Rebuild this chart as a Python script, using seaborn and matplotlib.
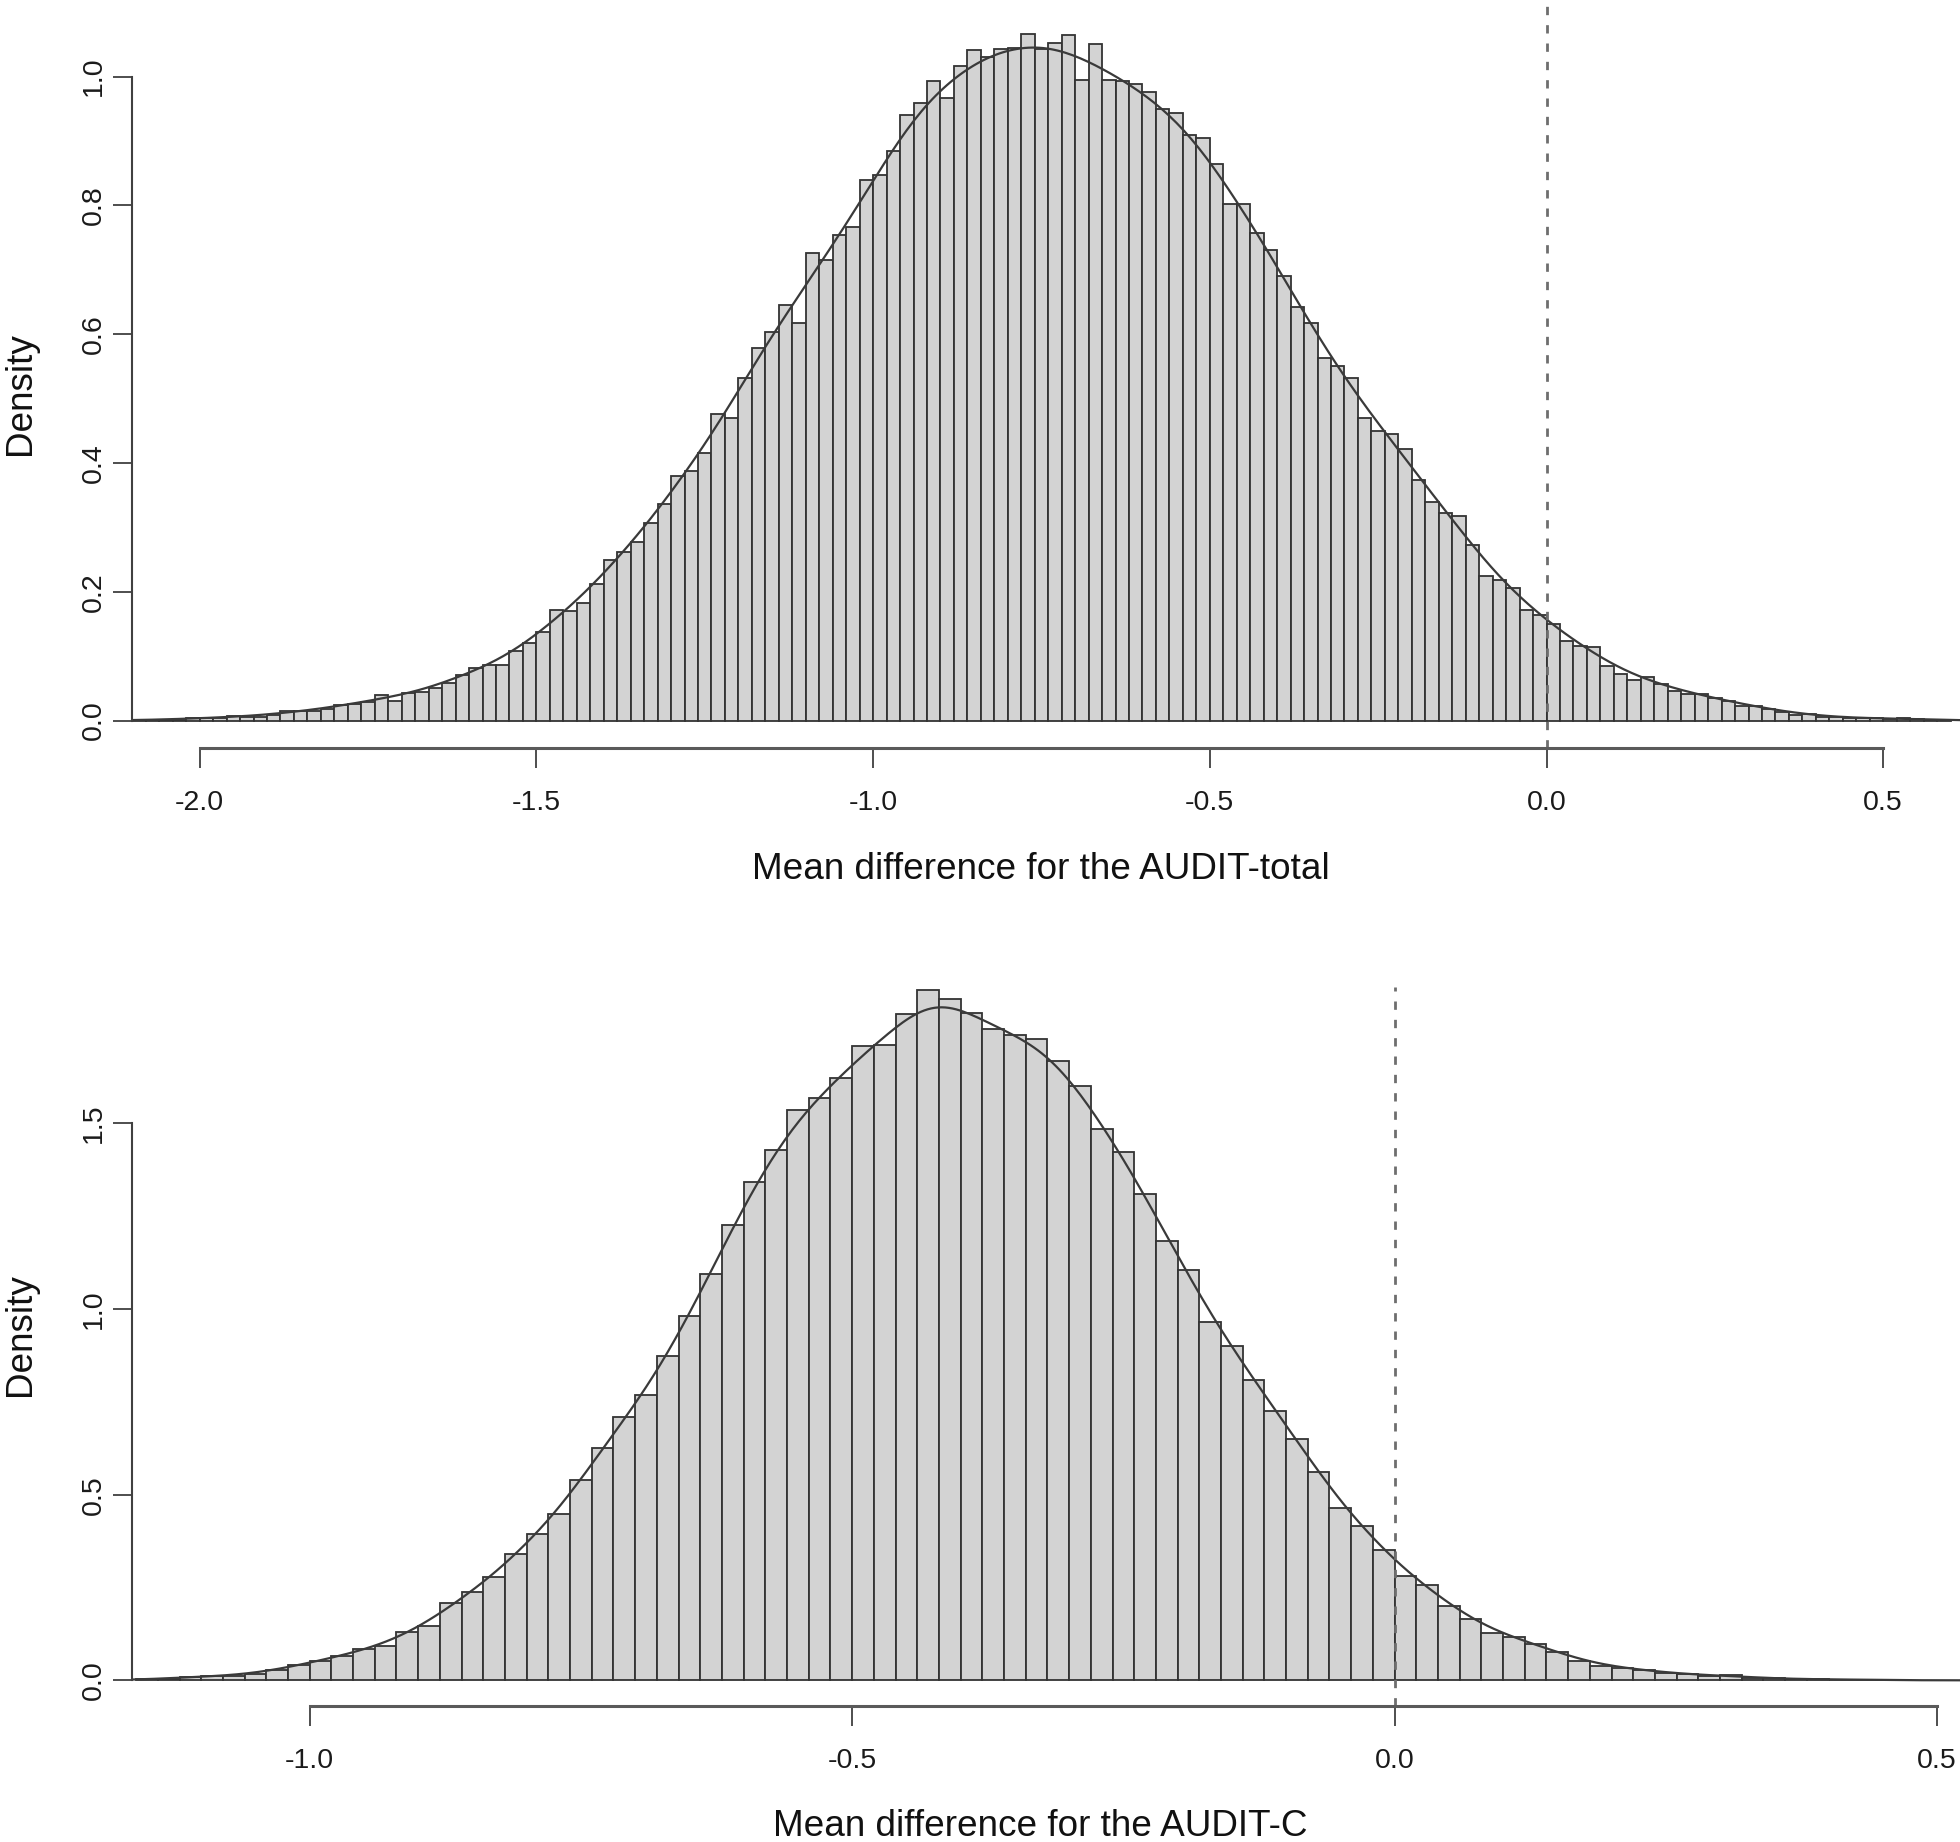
import numpy as np
import pandas as pd
import matplotlib
matplotlib.use("Agg")
import matplotlib.pyplot as plt
import seaborn as sns

# bar heights (density), bins are 0.02 wide
bin_width = 0.02

# AUDIT-total, first bin starts at -2.10
total_start = -2.10
total_density = [
    0.001, 0.001, 0.0015, 0.0015, 0.004, 0.004, 0.004, 0.007, 0.006, 0.006,
    0.009, 0.0145, 0.015, 0.015, 0.018, 0.024, 0.026, 0.0295, 0.040, 0.030,
    0.043, 0.045, 0.051, 0.059, 0.0715, 0.081, 0.0855, 0.0855, 0.108, 0.120,
    0.137, 0.172, 0.170, 0.183, 0.212, 0.249, 0.262, 0.278, 0.3075, 0.337,
    0.380, 0.388, 0.4155, 0.476, 0.4695, 0.532, 0.579, 0.603, 0.646, 0.618,
    0.726, 0.7155, 0.754, 0.766, 0.839, 0.848, 0.884, 0.941, 0.959, 0.993,
    0.967, 1.017, 1.041, 1.030, 1.043, 1.045, 1.066, 1.043, 1.052, 1.065,
    0.995, 1.051, 0.995, 0.993, 0.988, 0.976, 0.950, 0.943, 0.909, 0.904,
    0.864, 0.802, 0.802, 0.757, 0.731, 0.691, 0.643, 0.618, 0.563, 0.550,
    0.532, 0.470, 0.450, 0.445, 0.421, 0.373, 0.339, 0.323, 0.318, 0.272,
    0.224, 0.218, 0.206, 0.172, 0.164, 0.150, 0.124, 0.115, 0.114, 0.085,
    0.0725, 0.063, 0.067, 0.057, 0.046, 0.041, 0.041, 0.035, 0.031, 0.023,
    0.023, 0.018, 0.014, 0.009, 0.010, 0.006, 0.005, 0.0036, 0.0036, 0.0036,
    0.003, 0.0036, 0.002, 0.0015, 0.001,
]

# AUDIT-C, first bin starts at -1.16
c_start = -1.16
c_density = [
    0.0036, 0.0045, 0.009, 0.011, 0.0125, 0.018, 0.027, 0.042, 0.053, 0.066,
    0.083, 0.092, 0.129, 0.147, 0.207, 0.237, 0.278, 0.341, 0.394, 0.449,
    0.540, 0.626, 0.709, 0.768, 0.873, 0.982, 1.095, 1.227, 1.342, 1.428,
    1.535, 1.569, 1.623, 1.708, 1.711, 1.794, 1.860, 1.835, 1.796, 1.754,
    1.737, 1.728, 1.667, 1.601, 1.484, 1.423, 1.311, 1.182, 1.105, 0.965,
    0.901, 0.810, 0.725, 0.649, 0.561, 0.465, 0.415, 0.352, 0.280, 0.258,
    0.200, 0.165, 0.127, 0.117, 0.097, 0.076, 0.053, 0.039, 0.034, 0.027,
    0.021, 0.016, 0.012, 0.014, 0.007, 0.005, 0.003, 0.003, 0.002, 0.002,
    0.001,
]

total_xticks = [-2.0, -1.5, -1.0, -0.5, 0.0, 0.5]
total_yticks = [0.0, 0.2, 0.4, 0.6, 0.8, 1.0]
c_xticks = [-1.0, -0.5, 0.0, 0.5]
c_yticks = [0.0, 0.5, 1.0, 1.5]

total_label = "Mean difference for the AUDIT-total"
c_label = "Mean difference for the AUDIT-C"

plt.rcParams["font.family"] = ["Liberation Sans", "DejaVu Sans"]
plt.rcParams["axes.unicode_minus"] = False

TICK_PT = 20.5
LABEL_PT = 26.6


def draw_panel(ax, start, heights, xticks, yticks, xlabel, xlim, ylim, bw,
               xlab_y, ylab_y):
    n = len(heights)
    edges = start + bin_width * np.arange(n + 1)
    df = pd.DataFrame({"center": edges[:-1] + bin_width / 2, "density": heights})

    sns.histplot(data=df, x="center", weights="density", bins=edges.tolist(),
                 stat="count", kde=True,
                 kde_kws={"bw_method": bw, "cut": 3, "gridsize": 600},
                 color="#3a3a3a", facecolor="#d3d3d3", edgecolor="#333333",
                 linewidth=1.3, line_kws={"linewidth": 1.6}, ax=ax)

    ax.axvline(0, color="#6e6e6e", linewidth=2.0, dashes=(3, 3.6))

    ax.set_xlim(xlim)
    ax.set_ylim(ylim)
    ax.set_xticks(xticks)
    ax.set_xticklabels([f"{t:.1f}" for t in xticks])
    ax.set_yticks(yticks)
    ax.set_yticklabels([f"{t:.1f}" for t in yticks], rotation=90, va="center")

    for s in ["top", "right"]:
        ax.spines[s].set_visible(False)
    ax.spines["left"].set_bounds(yticks[0], yticks[-1])
    ax.spines["left"].set_color("#404040")
    ax.spines["left"].set_linewidth(1.5)
    ax.spines["bottom"].set_bounds(xticks[0], xticks[-1])
    ax.spines["bottom"].set_color("#5a5a5a")
    ax.spines["bottom"].set_linewidth(2.2)

    ax.tick_params(axis="x", direction="out", length=14.5, width=1.3,
                   color="#404040", labelsize=TICK_PT, pad=16,
                   labelcolor="#1a1a1a")
    ax.tick_params(axis="y", direction="out", length=13.5, width=1.3,
                   color="#404040", labelsize=TICK_PT, pad=4.5,
                   labelcolor="#1a1a1a")

    ax.set_xlabel(xlabel, fontsize=LABEL_PT, color="#111111")
    ax.xaxis.set_label_coords(0.4971, xlab_y)
    ax.xaxis.label.set_verticalalignment("center")
    ax.set_ylabel("Density", fontsize=LABEL_PT, color="#111111")
    ax.yaxis.set_label_coords(-0.0611, ylab_y)
    ax.yaxis.label.set_verticalalignment("center")
    ax.yaxis.label.set_horizontalalignment("center")
    ax.set_facecolor("white")


fig = plt.figure(figsize=(19.6, 18.42), dpi=100)
ax_top = fig.add_axes([0.06735, 0.5939, 0.93265, 0.4061])
ax_bot = fig.add_axes([0.06735, 0.07383, 0.93265, 0.3903])

draw_panel(ax_top, total_start, total_density, total_xticks, total_yticks,
           total_label, (-2.1005, 0.614), (-0.0427, 1.119), 0.13,
           -0.1625, 0.4733)
draw_panel(ax_bot, c_start, c_density, c_xticks, c_yticks,
           c_label, (-1.1638, 0.5212), (-0.0692, 1.867), 0.13,
           -0.1670, 0.516)

fig.savefig("out.png", dpi=100)
